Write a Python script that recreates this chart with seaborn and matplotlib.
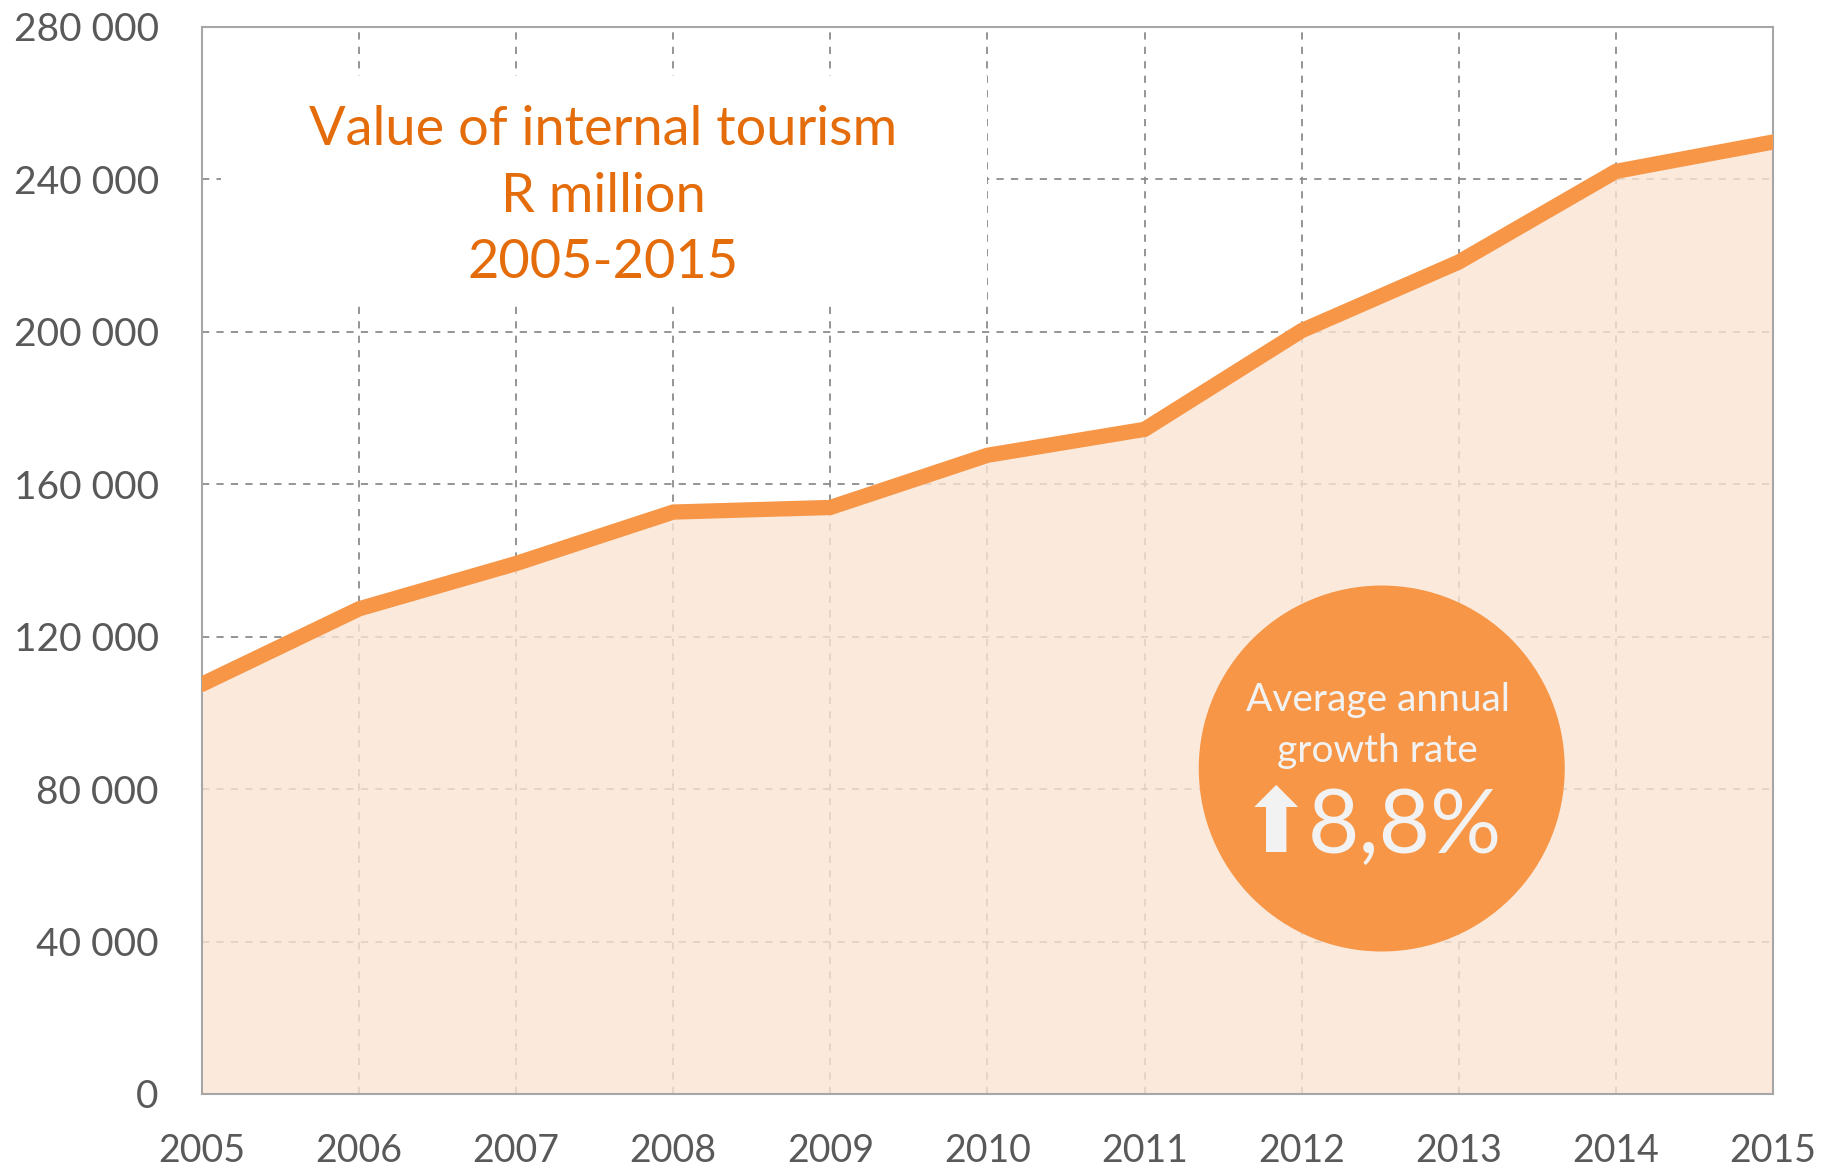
# Value of internal tourism, R million, 2005-2015

import pandas as pd
import matplotlib
matplotlib.use("Agg")
import matplotlib.pyplot as plt
import seaborn as sns
from matplotlib.patches import Ellipse, Rectangle


# DATA

years = [2005, 2006, 2007, 2008, 2009, 2010, 2011, 2012, 2013, 2014, 2015]
values = [107500, 127300, 139200, 152700, 153900, 167600, 174400, 200300, 218300, 242100, 249800]

y_ticks = [0, 40000, 80000, 120000, 160000, 200000, 240000, 280000]
y_tick_labels = ["0", "40 000", "80 000", "120 000", "160 000", "200 000", "240 000", "280 000"]

title_lines = ["Value of internal tourism", "R million", "2005-2015"]
growth_text = ["Average annual", "growth rate"]
growth_rate = "8,8%"

df = pd.DataFrame({"year": years, "value": values})


# STYLE

sns.set_style("white")
plt.rcParams["font.family"] = ["Lato", "DejaVu Sans"]

line_color = "#F79646"
title_color = "#E46C0A"
tick_color = "#595959"


# FIGURE

fig = plt.figure(figsize=(18.24, 11.72), dpi=100)
ax = fig.add_axes([0.1107, 0.0666, 0.8613, 0.9104])

ax.set_xlim(2005, 2015)
ax.set_ylim(0, 280000)

ax.set_xticks(years)
ax.set_xticklabels([str(y) for y in years])
ax.set_yticks(y_ticks)
ax.set_yticklabels(y_tick_labels)

ax.grid(True, color="#8C8C8C", linestyle=(0, (4, 4)), linewidth=1.3, zorder=0)
ax.set_axisbelow(True)

# white box behind the title hides the grid
ax.add_patch(Rectangle((0.012, 0.744), 0.488, 0.21, transform=ax.transAxes,
                       facecolor="white", edgecolor="none", zorder=1))

# area + line
ax.fill_between(df["year"], df["value"], 0, color="#FBE4D4", alpha=0.8,
                linewidth=0, zorder=2)

sns.lineplot(data=df, x="year", y="value", ax=ax, color=line_color,
             linewidth=11, zorder=3, solid_joinstyle="miter")

ax.set_xlabel("")
ax.set_ylabel("")

for side in ["left", "bottom", "top", "right"]:
    ax.spines[side].set_color("#A6A6A6")
    ax.spines[side].set_linewidth(1.5)

ax.tick_params(axis="x", length=0, pad=28, labelsize=27, labelcolor=tick_color)
ax.tick_params(axis="y", length=0, pad=31, labelsize=28, labelcolor=tick_color)


# TITLE

for i, line in enumerate(title_lines):
    ax.text(0.2553, 0.904 - i * 0.0625, line, transform=ax.transAxes,
            ha="center", va="center", fontsize=39, color=title_color, zorder=4)


# GROWTH CIRCLE

ax.add_patch(Ellipse((0.751, 0.305), 366 / 1571, 366 / 1067, transform=ax.transAxes,
                     facecolor=line_color, edgecolor="none", zorder=5))

ax.text(0.7485, 0.369, growth_text[0], transform=ax.transAxes, ha="center",
        va="center", fontsize=28, color="#F2F2F2", zorder=6)
ax.text(0.7485, 0.321, growth_text[1], transform=ax.transAxes, ha="center",
        va="center", fontsize=28, color="#F2F2F2", zorder=6)
ax.text(0.766, 0.249, growth_rate, transform=ax.transAxes, ha="center",
        va="center", fontsize=64, color="#F2F2F2", zorder=6)
ax.text(0.6836, 0.250, "\u2B06", transform=ax.transAxes, ha="center",
        va="center", fontsize=64, color="#F2F2F2", zorder=6,
        family=["DejaVu Sans"])

plt.savefig("out.png", dpi=100)
